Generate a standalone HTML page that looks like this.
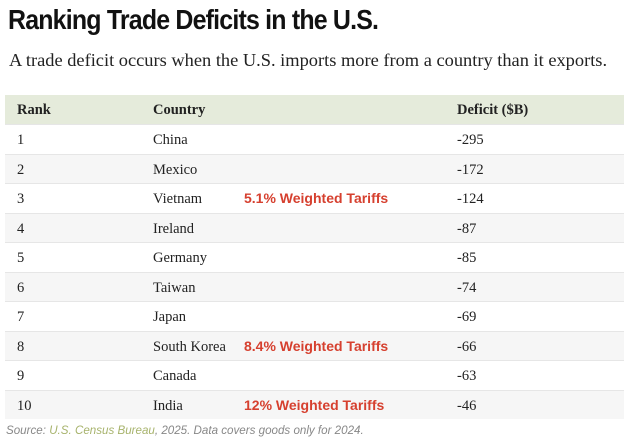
<!DOCTYPE html>
<html><head><meta charset="utf-8"><style>
body{margin:0;width:624px;height:445px;background:#fff;overflow:hidden;position:relative;font-family:"Liberation Serif",serif;color:#222}
.t{position:absolute;white-space:nowrap}
#title{left:8px;top:4px;font-family:"Liberation Sans Narrow","Liberation Sans",sans-serif;font-weight:bold;font-size:28px;letter-spacing:-0.9px;color:#111;transform:scaleX(0.89);transform-origin:0 0}
#sub{left:9px;top:50px;font-size:18.4px;color:#222}
#hdr{position:absolute;left:5px;top:95px;width:619px;height:29px;background:#e5ebdb}
.row{position:absolute;left:5px;width:619px;height:29.5px;border-top:1px solid #e6e6e6;box-sizing:border-box}
.cell{position:absolute;top:7px;font-size:14.5px}
.h{font-weight:bold;font-size:14.5px}
.tar{position:absolute;top:6px;left:239px;font-family:"Liberation Sans",sans-serif;font-weight:bold;font-size:14px;color:#d6402f}
#src{left:6px;top:424px;font-family:"Liberation Sans",sans-serif;font-style:italic;font-size:11.6px;color:#888}
#src span{color:#a7b36c}
</style></head><body>
<div id="title" class="t">Ranking Trade Deficits in the U.S.</div>
<div id="sub" class="t">A trade deficit occurs when the U.S. imports more from a country than it exports.</div>
<div id="hdr">
<div class="cell h" style="left:12px">Rank</div>
<div class="cell h" style="left:148px">Country</div>
<div class="cell h" style="left:452px">Deficit ($B)</div>
</div>
<div id="rows"></div>
<div id="src" class="t">Source: <span>U.S. Census Bureau</span>, 2025. Data covers goods only for 2024.</div>
<script>
const ranks=[1,2,3,4,5,6,7,8,9,10];
const countries=["China","Mexico","Vietnam","Ireland","Germany","Taiwan","Japan","South Korea","Canada","India"];
const deficits=[-295,-172,-124,-87,-85,-74,-69,-66,-63,-46];
const tariffs=["","","5.1% Weighted Tariffs","","","","","8.4% Weighted Tariffs","","12% Weighted Tariffs"];
const c=document.getElementById('rows');
for(let i=0;i<ranks.length;i++){
const r=document.createElement('div');
r.className='row';
r.style.top=(124+i*29.5)+'px';
r.style.background=i%2?'#f6f6f6':'#fff';


const a=document.createElement('div');a.className='cell';a.style.left='12px';a.textContent=ranks[i];


const b=document.createElement('div');b.className='cell';b.style.left='148px';b.textContent=countries[i];


const d=document.createElement('div');d.className='cell';d.style.left='452px';d.textContent=deficits[i];


r.append(a,b,d);
if(tariffs[i]){const t=document.createElement('div');t.className='tar';t.textContent=tariffs[i];


r.append(t);}
c.append(r);
}
</script>
</body></html>
